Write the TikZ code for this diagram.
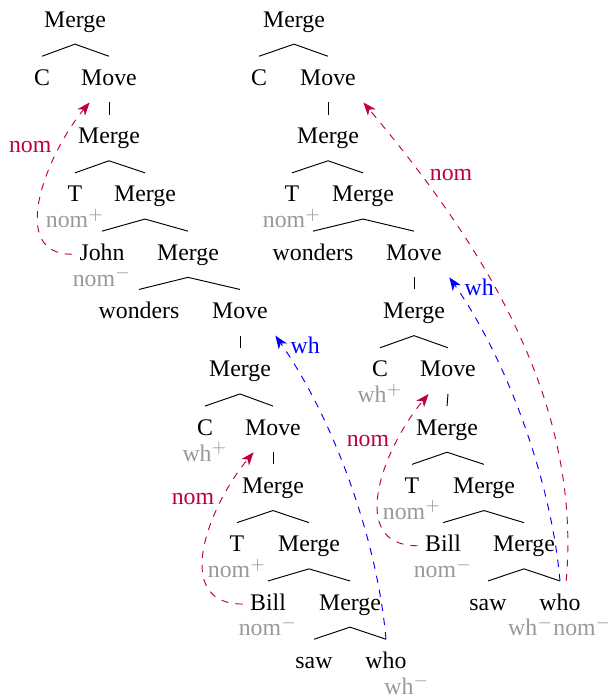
\documentclass[tikz,border=0pt]{standalone}
\usepackage{fontspec}
\setmainfont{Liberation Serif}
\usetikzlibrary{arrows.meta}
\usetikzlibrary{positioning}
\usepackage{xcolor}

\begin{document}
\begin{tikzpicture}[x=0.42pt, y=-0.42pt, >={Stealth[length=5.5pt, width=4.2pt, inset=1.6pt]},
    word/.style={anchor=base, text height=7pt, text depth=2pt, inner xsep=3pt, inner ysep=5pt},
    feat/.style={text=gray!80, inner sep=0pt, text height=7pt, text depth=2pt},
    nomarrow/.style={->, dashed, purple},
    wharrow/.style={->, dashed, blue}]

\useasboundingbox (0,0) rectangle (608,696);

% name/x/row/word
\def\words{lm0/75/0/Merge, lc1/42/1/C, lmv1/109/1/Move, lm2/109/2/Merge, lt3/75/3/T, lm3/145/3/Merge,
    ljohn/102/4/John, lm4/188/4/Merge, lwon/139/5/wonders, lmv5/240/5/Move, lm6/240/6/Merge,
    lc7/205/7/C, lmv7/273/7/Move, lm8/273/8/Merge, lt9/237/9/T, lm9/309/9/Merge,
    lbill/268/10/Bill, lm10/350/10/Merge, lsaw/314/11/saw, lwho/386/11/who,
    rm0/294/0/Merge, rc1/259/1/C, rmv1/328/1/Move, rm2/328/2/Merge, rt3/292/3/T, rm3/363/3/Merge,
    rwon/313/4/wonders, rmv4/414/4/Move, rm5/414/5/Merge, rc6/380/6/C, rmv6/448/6/Move,
    rm7/447/7/Merge, rt8/412/8/T, rm8/484/8/Merge, rbill/443/9/Bill, rm9/524/9/Merge,
    rsaw/488/10/saw, rwho/560/10/who}

\def\edges{lm0/lc1, lm0/lmv1, lmv1/lm2, lm2/lt3, lm2/lm3, lm3/ljohn, lm3/lm4, lm4/lwon, lm4/lmv5,
    lmv5/lm6, lm6/lc7, lm6/lmv7, lmv7/lm8, lm8/lt9, lm8/lm9, lm9/lbill, lm9/lm10, lm10/lsaw, lm10/lwho,
    rm0/rc1, rm0/rmv1, rmv1/rm2, rm2/rt3, rm2/rm3, rm3/rwon, rm3/rmv4, rmv4/rm5, rm5/rc6, rm5/rmv6,
    rmv6/rm7, rm7/rt8, rm7/rm8, rm8/rbill, rm8/rm9, rm9/rsaw, rm9/rwho}

\def\feats{lt3/nom$^+$/0pt, ljohn/nom$^-$/0pt, lc7/wh$^+$/0pt, lt9/nom$^+$/0pt, lbill/nom$^-$/0pt,
    lwho/wh$^-$/8.8pt, rt3/nom$^+$/0pt, rc6/wh$^+$/0pt, rt8/nom$^+$/0pt, rbill/nom$^-$/0pt,
    rwho/wh$^-$nom$^-$/0pt}

    % words and branches
    \foreach \name/\x/\row/\word in \words {
        \node[word] (\name) at (\x, 27+58.3*\row) {\word};
    }
    \foreach \a/\b in \edges {
        \draw (\a.south) -- (\b.north);
    }
    \foreach \name/\f/\dx in \feats {
        \node[feat, below=-3.5pt of \name, xshift=\dx] (f\name) {\f};
    }

    % movement
    \draw[nomarrow] (ljohn.west) to[out=180, in=230, looseness=1.1] node[pos=0.75, left] (lnom1) {nom} (lmv1.230);
    \draw[wharrow] (lwho.north) to[out=95, in=-55, looseness=0.8] node[pos=0.96, right] (lwh) {wh} (lmv5.south east);
    \draw[nomarrow] (lbill.west) to[out=180, in=230, looseness=1.2] node[pos=0.75, left] (lnom2) {nom} (lmv7.230);

    \draw[nomarrow] (rbill.west) to[out=180, in=230, looseness=1.2] node[pos=0.75, left] (rnom1) {nom} (rmv6.230);
    \draw[wharrow] (rwho.north) to[out=95, in=-55, looseness=0.8] node[pos=0.96, right] (rwh) {wh} (rmv4.south east);
    \draw[nomarrow] (rwho.75) to[out=85, in=-50, looseness=0.9] node[pos=0.83, right] (rnom2) {nom} (rmv1.south east);

\end{tikzpicture}
\end{document}
